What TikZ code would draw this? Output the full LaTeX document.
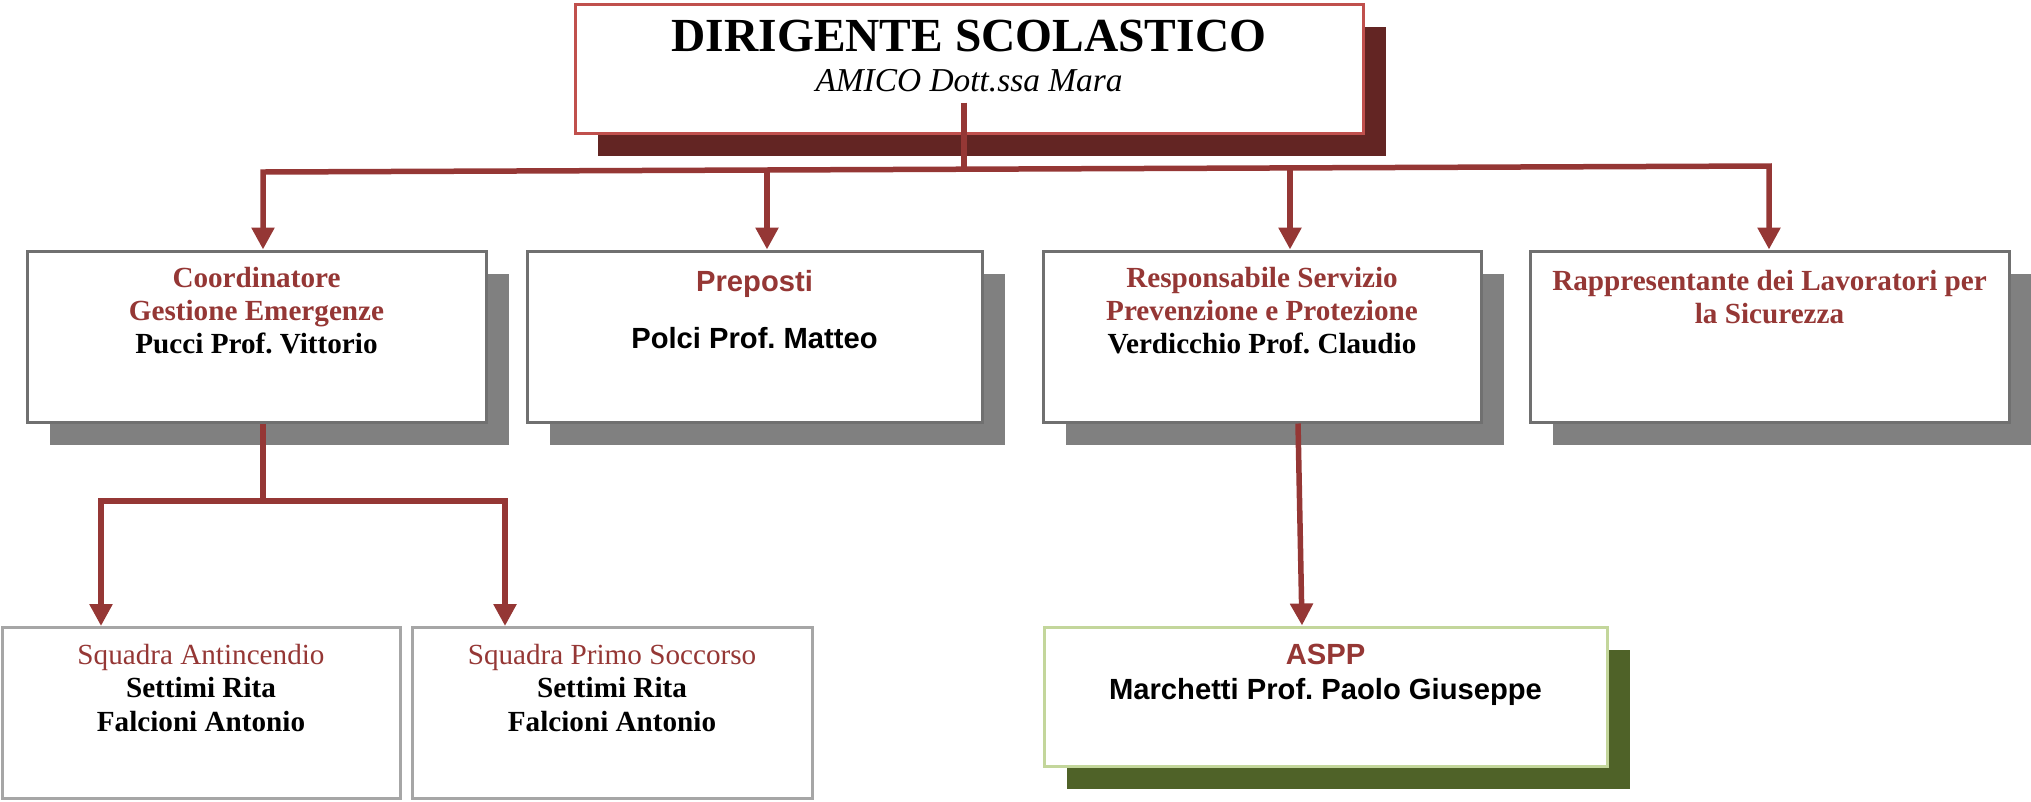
\documentclass[tikz,border=0pt]{standalone}
\usepackage{fontspec}
\setmainfont{Liberation Serif}
\setsansfont{Liberation Sans}
\usetikzlibrary{positioning,arrows.meta,shadows}
\definecolor{rossoscuro}{HTML}{953735}
\definecolor{bordorosso}{HTML}{C0504D}
\definecolor{ombrarossa}{HTML}{632523}
\definecolor{bordogrigio}{HTML}{707070}
\definecolor{ombragrigia}{HTML}{808080}
\definecolor{bordochiaro}{HTML}{A6A6A6}
\definecolor{bordoverde}{HTML}{C3D69B}
\definecolor{ombraverde}{HTML}{4F6228}
\frenchspacing
\begin{document}
\begin{tikzpicture}[x=0.1mm,y=-0.1mm]
\tikzstyle{casella}=[draw=bordogrigio, line width=0.3mm, fill=white, inner sep=0]
\tikzstyle{ombra}=[drop shadow={shadow xshift=2.3mm, shadow yshift=-2.3mm, fill=ombragrigia, opacity=1}]
\tikzstyle{testo}=[align=center, inner sep=0, font=\fontsize{8.3}{9.4}\selectfont\bfseries]
\tikzstyle{linea}=[line width=0.55mm, draw=rossoscuro]
\tikzstyle{freccia}=[linea, -{Triangle[width=2.2mm,length=2.2mm]}]
\tikzstyle{doppia}=[linea, {Triangle[width=2.2mm,length=2.2mm]}-{Triangle[width=2.2mm,length=2.2mm]}]
\newcommand{\rs}[1]{\textcolor{rossoscuro}{#1}}
\useasboundingbox (0,0) rectangle (2031,801);
\node[casella, draw=bordorosso, drop shadow={shadow xshift=2.3mm, shadow yshift=-2.3mm, fill=ombrarossa, opacity=1}, minimum width=78.8mm, minimum height=12.9mm] (ds) at (969,68.5) {};
\node[casella, ombra, minimum width=45.9mm, minimum height=17.1mm] (cge) at (256.5,336.5) {};
\node[casella, ombra, minimum width=45.5mm, minimum height=17.1mm] (prep) at (754.5,336.5) {};
\node[casella, ombra, minimum width=43.8mm, minimum height=17.1mm] (rspp) at (1262,336.5) {};
\node[casella, ombra, minimum width=47.9mm, minimum height=17.1mm] (rls) at (1769.5,336.5) {};
\node[casella, draw=bordochiaro, minimum width=39.8mm, minimum height=17.1mm] (sqa) at (201,713) {};
\node[casella, draw=bordochiaro, minimum width=40mm, minimum height=17.1mm] (sqps) at (612,713) {};
\node[casella, draw=bordoverde, drop shadow={shadow xshift=2.3mm, shadow yshift=-2.3mm, fill=ombraverde, opacity=1}, minimum width=56.3mm, minimum height=13.9mm] (aspp) at (1325.5,696.5) {};
\node[testo, anchor=base, font=\fontsize{13.5}{14}\selectfont\bfseries] (dstit) at (969,51) {DIRIGENTE SCOLASTICO};
\node[testo, anchor=base, font=\fontsize{9.5}{11}\selectfont\itshape] (dsnome) at (969,91) {AMICO Dott.ssa Mara};
\node[testo, below=1.7mm of cge.north] (cgetxt) {\rs{Coordinatore}\\\rs{Gestione Emergenze}\\Pucci Prof. Vittorio};
\node[testo, font=\fontsize{8.3}{9.4}\selectfont\sffamily\bfseries, below=2mm of prep.north] (preptxt) {\rs{Preposti}\\[6.8pt]Polci Prof. Matteo};
\node[testo, below=1.7mm of rspp.north] (rspptxt) {\rs{Responsabile Servizio}\\\rs{Prevenzione e Protezione}\\Verdicchio Prof. Claudio};
\node[testo, below=2mm of rls.north] (rlstxt) {\rs{Rappresentante dei Lavoratori per}\\\rs{la Sicurezza}};
\node[testo, below=1.8mm of sqa.north] (sqatxt) {\rs{\mdseries Squadra Antincendio}\\Settimi Rita\\Falcioni Antonio};
\node[testo, below=1.8mm of sqps.north] (sqpstxt) {\rs{\mdseries Squadra Primo Soccorso}\\Settimi Rita\\Falcioni Antonio};
\node[testo, font=\fontsize{8.3}{10}\selectfont\sffamily\bfseries, below=1.8mm of aspp.north] (aspptxt) {\rs{ASPP}\\Marchetti Prof. Paolo Giuseppe};
\coordinate (barL) at (263,172);
\coordinate (barR) at (1769,166);
\coordinate (barM) at (964,169);
\coordinate (bar2) at (767,170);
\coordinate (bar3) at (1290,168);
\coordinate (sqM) at (263,501);
\coordinate (sqL) at (101,501);
\coordinate (sqR) at (505,501);
\draw[linea] ([yshift=3.2mm]ds.south -| barM) -- (barM);
\draw[doppia] (barL |- cge.north) -- (barL) -- (barR) -- (barR |- rls.north);
\draw[freccia] (bar2) -- (bar2 |- prep.north);
\draw[freccia] (bar3) -- (bar3 |- rspp.north);
\draw[linea] (cge.south -| sqM) -- (sqM);
\draw[doppia] (sqL |- sqa.north) -- (sqL) -- (sqR) -- (sqR |- sqps.north);
\draw[freccia] ([xshift=3.6mm]rspp.south) -- ([xshift=-2.35mm]aspp.north);
\end{tikzpicture}
\end{document}
